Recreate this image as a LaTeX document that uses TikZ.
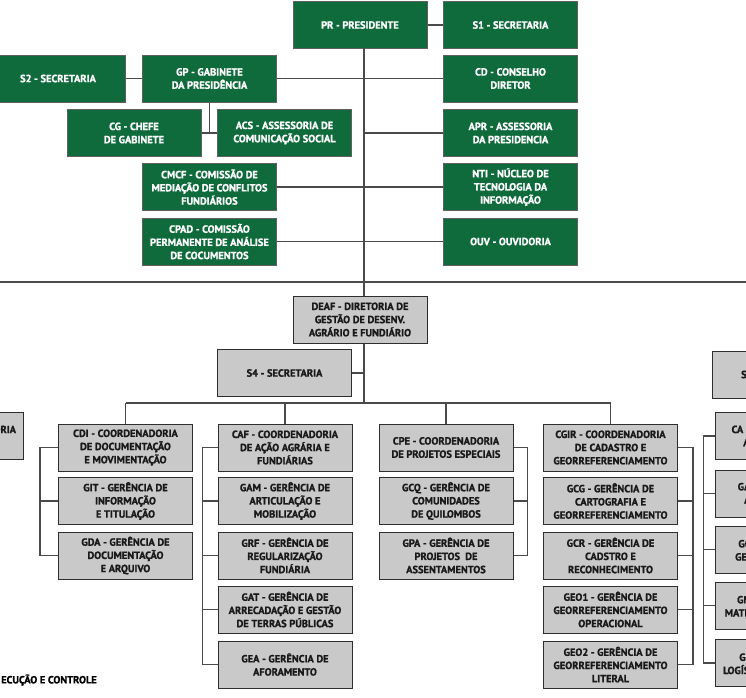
\documentclass[tikz,border=0pt]{standalone}
\usepackage{fontspec}
\setmainfont{PT Sans}[BoldFont={PT Sans Bold}, BoldFeatures={FakeBold=1.2}]
\definecolor{orggreen}{HTML}{0F6B3B}
\definecolor{orggrey}{HTML}{C9C9C9}
\definecolor{orgline}{HTML}{4A4A4A}
\definecolor{orgedge}{HTML}{2E2E2E}
\newcommand{\orgfont}{\bfseries\fontsize{10.4}{13.2}\selectfont}
\tikzset{
  orgbox/.style={
    draw=orgedge,
    line width=1pt,
    minimum width=134pt,
    minimum height=47pt,
    inner sep=1pt,
    align=center,
    font=\orgfont
  },
  greenbox/.style={orgbox, fill=orggreen, draw=gray!75!black, text=white},
  greybox/.style={orgbox, fill=orggrey, text=black!90},
  wire/.style={draw=orgline, line width=1.2pt}
}

\begin{document}
\begin{tikzpicture}[x=1pt,y=-1pt]
  \useasboundingbox (0,0) rectangle (746,697);
  \clip (0,0) rectangle (746,697);
  \node[greenbox] (pr) at (360,25) {PR - PRESIDENTE};
  \node[greenbox] (s1) at (510.5,25) {S1 - SECRETARIA};
  \node[greenbox] (s2) at (58,78.5) {S2 - SECRETARIA};
  \node[greenbox] (gp) at (209.5,78.5) {GP - GABINETE\\DA PRESIDÊNCIA};
  \node[greenbox] (cg) at (134,133) {CG - CHEFE\\DE GABINETE};
  \node[greenbox] (acs) at (284.5,133) {ACS - ASSESSORIA DE\\COMUNICAÇÃO SOCIAL};
  \node[greenbox] (cmcf) at (209.5,187) {CMCF - COMISSÃO DE\\MEDIAÇÃO DE CONFLITOS\\FUNDIÁRIOS};
  \node[greenbox] (cpad) at (209.5,241.5) {CPAD - COMISSÃO\\PERMANENTE DE ANÁLISE\\DE COCUMENTOS};
  \node[greenbox] (cd) at (510.5,78.5) {CD - CONSELHO\\DIRETOR};
  \node[greenbox] (apr) at (510.5,133) {APR - ASSESSORIA\\DA PRESIDENCIA};
  \node[greenbox] (nti) at (510.5,187) {NTI - NÚCLEO DE\\TECNOLOGIA DA\\INFORMAÇÃO};
  \node[greenbox] (ouv) at (510.5,241.5) {OUV - OUVIDORIA};
  \coordinate (top) at (364,48);
  \coordinate (busL) at (0,282);
  \coordinate (busR) at (746,282);
  \coordinate (hub) at (364,403);

  \node[greybox] (deaf) at (360,319.5) {DEAF - DIRETORIA DE\\GESTÃO DE DESENV.\\AGRÁRIO E FUNDIÁRIO};
  \node[greybox] (s4) at (284.5,373) {S4 - SECRETARIA};
  \node[greybox] (cdi) at (125.5,447.5) {CDI - COORDENADORIA\\DE DOCUMENTAÇÃO\\E MOVIMENTAÇÃO};
  \node[greybox] (git) at (125.5,501) {GIT - GERÊNCIA DE\\INFORMAÇÃO\\E TITULAÇÃO};
  \node[greybox] (gda) at (125.5,555.5) {GDA - GERÊNCIA DE\\DOCUMENTAÇÃO\\E ARQUIVO};
  \node[greybox] (caf) at (285,447.5) {CAF - COORDENADORIA\\DE AÇÃO AGRÁRIA E\\FUNDIÁRIAS};
  \node[greybox] (gam) at (285,501) {GAM - GERÊNCIA DE\\ARTICULAÇÃO E\\MOBILIZAÇÃO};
  \node[greybox] (grf) at (285,555.5) {GRF - GERÊNCIA DE\\REGULARIZAÇÃO\\FUNDIÁRIA};
  \node[greybox] (gat) at (285,609.5) {GAT - GERÊNCIA DE\\ARRECADAÇÃO E GESTÃO\\DE TERRAS PÚBLICAS};
  \node[greybox] (gea) at (285,664.5) {GEA - GERÊNCIA DE\\AFORAMENTO};
  \node[greybox] (cpe) at (446,447.5) {CPE - COORDENADORIA\\DE PROJETOS ESPECIAIS};
  \node[greybox] (gcq) at (446,501) {GCQ - GERÊNCIA DE\\COMUNIDADES\\DE QUILOMBOS};
  \node[greybox] (gpa) at (446,555.5) {GPA - GERÊNCIA DE\\PROJETOS\ \ DE\\ASSENTAMENTOS};
  \node[greybox] (cgir) at (610.5,447.5) {CGIR - COORDENADORIA\\DE CADASTRO E\\GEORREFERENCIAMENTO};
  \node[greybox] (gcg) at (610.5,501) {GCG - GERÊNCIA DE\\CARTOGRAFIA E\\GEORREFERENCIAMENTO};
  \node[greybox] (gcr) at (610.5,555.5) {GCR - GERÊNCIA DE\\CADSTRO E\\RECONHECIMENTO};
  \node[greybox] (geo1) at (610.5,609.5) {GEO1 - GERÊNCIA DE\\GEORREFERENCIAMENTO\\OPERACIONAL};
  \node[greybox] (geo2) at (610.5,664.5) {GEO2 - GERÊNCIA DE\\GEORREFERENCIAMENTO\\LITERAL};
  \node[greybox] (s5) at (779,374.5) {S5 - SECRETARIA};
  \node[greybox] (ca) at (782,436) {CA - COORDENADORIA\\ADMINISTRATIVA};
  \node[greybox] (ga) at (782,493.5) {GAD - GERÊNCIA DE\\ADMINISTRAÇÃO};
  \node[greybox] (gc) at (782,549.5) {GCP - GERÊNCIA DE\\GESTÃO DE PESSOAS};
  \node[greybox] (gm) at (782,605.5) {GMP - GERÊNCIA DE\\MATERIAL E PATRIMÔNIO};
  \node[greybox] (gl) at (782,663) {GLT - GERÊNCIA DE\\LOGÍSTICA E TRANSPORTE};
  \node[greybox, text width=120pt, align=right] (cleft) at (-44,436) {COORDENADORIA\\\mbox{}};
  \node[anchor=west, font=\orgfont, inner sep=0pt] (dexec) at (1,680) {ECUÇÃO E CONTROLE};

  \draw[wire] (pr) -- (s1);
  \draw[wire] (s2) -- (gp);
  \draw[wire] (top) -- (top |- deaf.north);
  \draw[wire] (busL) -- (busR);
  \foreach \b in {gp,cmcf,cpad} \draw[wire] (\b.east) -- (\b.east -| top);
  \foreach \b in {cd,apr,nti,ouv} \draw[wire] (\b.west) -- (\b.west -| top);
  \draw[wire] (gp) -- (gp |- cg);
  \draw[wire] (cg) -- (acs);
  \draw[wire] (deaf.south -| top) -- (hub);
  \draw[wire] (s4) -- (s4 -| top);
  \draw[wire] (cdi |- hub) -- (cgir |- hub);
  \foreach \c in {cdi,caf,cpe,cgir} \draw[wire] (\c |- hub) -- (\c);
  \draw[wire] (cdi.west) -- ++(-18,0) |- (gda.west);
  \draw[wire] (git.west) -- ++(-18,0);
  \draw[wire] (caf.west) -- ++(-15,0) |- (gea.west);
  \foreach \g in {gam,grf,gat} \draw[wire] (\g.west) -- ++(-15,0);
  \draw[wire] (cpe.east) -- ++(14,0) |- (gpa.east);
  \draw[wire] (gcq.east) -- ++(14,0);
  \draw[wire] (cgir.east) -- ++(15,0) |- (geo2.east);
  \foreach \g in {gcg,gcr,geo1} \draw[wire] (\g.east) -- ++(15,0);
  \draw[wire] (ca.west) -- ++(-11,0) |- (gl.west);
  \foreach \g in {ga,gc,gm} \draw[wire] (\g.west) -- ++(-11,0);
\end{tikzpicture}
\end{document}
